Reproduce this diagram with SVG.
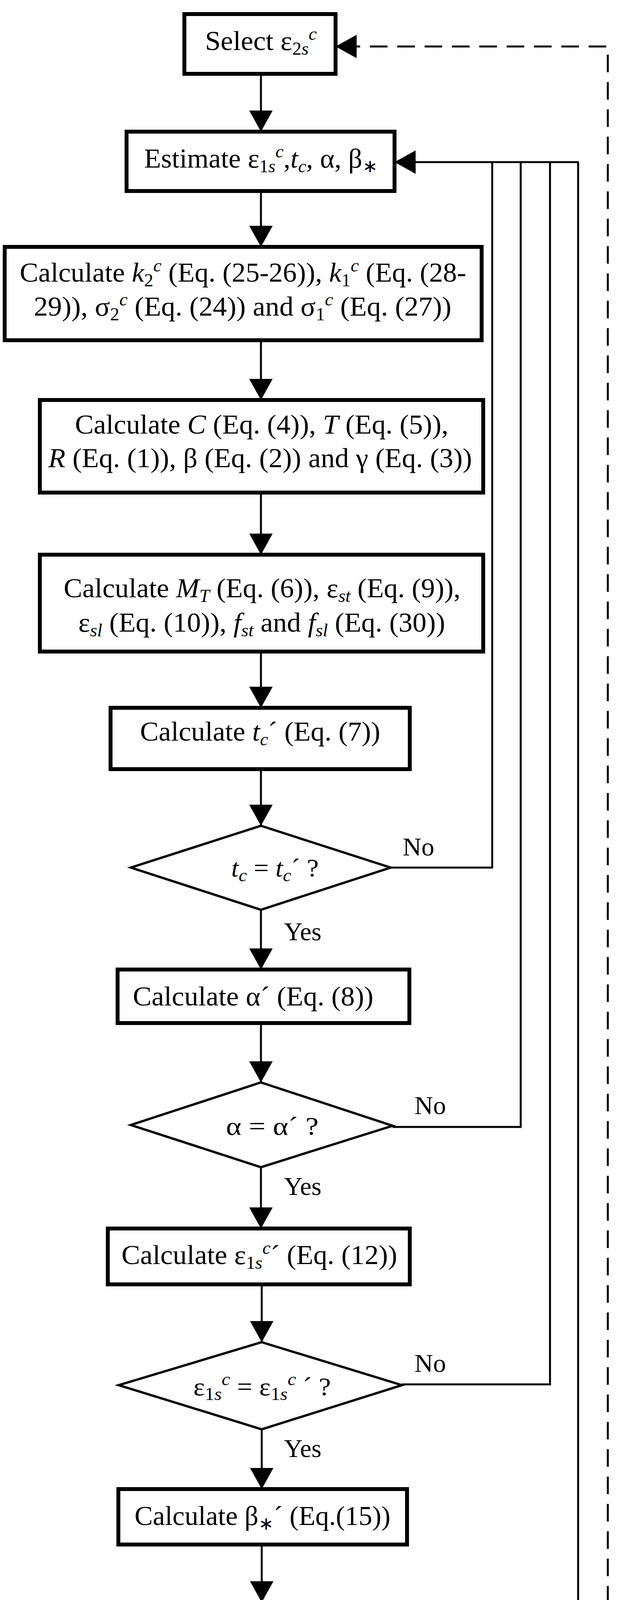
<svg xmlns="http://www.w3.org/2000/svg" width="1600" height="5403" viewBox="0 0 1600 5403">
<style>
.box{fill:#fff;stroke:#000;stroke-width:10}
.dia{fill:#fff;stroke:#000;stroke-width:6}
.ln{fill:none;stroke:#000;stroke-width:5}
.dash{fill:none;stroke:#000;stroke-width:5;stroke-dasharray:45 25}
text{font-family:"Liberation Serif","Times New Roman",serif;font-size:70px;fill:#000;text-anchor:middle}
.d{font-size:66px}
.lb{text-anchor:start;font-size:66px}
.i{font-style:italic}
.sb{font-size:46px;baseline-shift:-12px}
.sp{font-size:46px;baseline-shift:26px}
</style>
<defs>
<marker id="ah" markerUnits="userSpaceOnUse" markerWidth="56" markerHeight="64" refX="54" refY="32" orient="auto">
<path d="M0,2 L54,32 L0,62 z" fill="#000"/>
</marker>
</defs>
<g id="connectors">
<path class="ln" d="M668,189 V337" marker-end="url(#ah)"/>
<path class="ln" d="M668,489 V632" marker-end="url(#ah)"/>
<path class="ln" d="M668,871 V1024" marker-end="url(#ah)"/>
<path class="ln" d="M668,1261 V1420" marker-end="url(#ah)"/>
<path class="ln" d="M668,1668 V1812" marker-end="url(#ah)"/>
<path class="ln" d="M668,1969 V2114" marker-end="url(#ah)"/>
<path class="ln" d="M668,2329 V2482" marker-end="url(#ah)"/>
<path class="ln" d="M668,2619 V2771" marker-end="url(#ah)"/>
<path class="ln" d="M668,2988 V3145" marker-end="url(#ah)"/>
<path class="ln" d="M670,3288 V3436" marker-end="url(#ah)"/>
<path class="ln" d="M670,3659 V3812" marker-end="url(#ah)"/>
<path class="ln" d="M670,3954 V4102" marker-end="url(#ah)"/>
<path class="ln" d="M672,4316 V4466" marker-end="url(#ah)"/>
<path class="ln" d="M673,4603 V4753" marker-end="url(#ah)"/>
<path class="ln" d="M673,5114 V5264" marker-end="url(#ah)"/>
<path class="ln" d="M1000,2221 H1260 V415"/>
<path class="ln" d="M1005,2885 H1333 V415"/>
<path class="ln" d="M1029,3544 H1408 V415"/>
<path class="ln" d="M1000,4208 H1480 V415"/>
<path class="ln" d="M1482,415 H1010" marker-end="url(#ah)"/>
<path class="dash" d="M1128,4937 H1556 V119 H859" marker-end="url(#ah)"/>
<text class="lb" x="727" y="2407">Yes</text>
<text class="lb" x="727" y="3059">Yes</text>
<text class="lb" x="727" y="3730">Yes</text>
<text class="lb" x="727" y="4389">Yes</text>
<text class="lb" x="727" y="5187">Yes</text>
<text class="lb" x="1031" y="2190">No</text>
<text class="lb" x="1061" y="2852">No</text>
<text class="lb" x="1061" y="3512">No</text>
<text class="lb" x="1061" y="4176">No</text>
<text class="lb" x="1173" y="4906">No</text>
</g>
<g id="select"><rect class="box" x="472" y="36" width="387" height="153"/>
<text x="668" y="128" textLength="286" lengthAdjust="spacingAndGlyphs">Select ε<tspan class="sb">2<tspan class="i">s</tspan></tspan><tspan class="sp i">c</tspan></text></g>
<g id="estimate"><rect class="box" x="324" y="337" width="686" height="152"/>
<text x="668" y="429" textLength="598" lengthAdjust="spacingAndGlyphs">Estimate ε<tspan class="sb">1<tspan class="i">s</tspan></tspan><tspan class="sp i">c</tspan>,<tspan class="i">t</tspan><tspan class="sb i">c</tspan>, α, β<tspan class="sb">∗</tspan></text></g>
<g id="calc-k"><rect class="box" x="12" y="632" width="1221" height="239"/>
<text x="622" y="721" textLength="1143" lengthAdjust="spacingAndGlyphs">Calculate <tspan class="i">k</tspan><tspan class="sb">2</tspan><tspan class="sp i">c</tspan> (Eq. (25-26)), <tspan class="i">k</tspan><tspan class="sb">1</tspan><tspan class="sp i">c</tspan> (Eq. (28-</text>
<text x="621" y="808" textLength="1069" lengthAdjust="spacingAndGlyphs">29)), σ<tspan class="sb">2</tspan><tspan class="sp i">c</tspan> (Eq. (24)) and σ<tspan class="sb">1</tspan><tspan class="sp i">c</tspan> (Eq. (27))</text></g>
<g id="calc-c"><rect class="box" x="102" y="1024" width="1135" height="237"/>
<text x="670" y="1110" textLength="956" lengthAdjust="spacingAndGlyphs">Calculate <tspan class="i">C</tspan> (Eq. (4)), <tspan class="i">T</tspan> (Eq. (5)),</text>
<text x="666" y="1196" textLength="1085" lengthAdjust="spacingAndGlyphs"><tspan class="i">R</tspan> (Eq. (1)), β (Eq. (2)) and γ (Eq. (3))</text></g>
<g id="calc-mt"><rect class="box" x="102" y="1420" width="1135" height="248"/>
<text x="671" y="1529" textLength="1016" lengthAdjust="spacingAndGlyphs">Calculate <tspan class="i">M</tspan><tspan class="sb i">T</tspan> (Eq. (6)), ε<tspan class="sb i">st</tspan> (Eq. (9)),</text>
<text x="670" y="1617" textLength="939" lengthAdjust="spacingAndGlyphs">ε<tspan class="sb i">sl</tspan> (Eq. (10)), <tspan class="i">f</tspan><tspan class="sb i">st</tspan> and <tspan class="i">f</tspan><tspan class="sb i">sl</tspan> (Eq. (30))</text></g>
<g id="calc-tc"><rect class="box" x="283" y="1812" width="766" height="157"/>
<text x="666" y="1896" textLength="615" lengthAdjust="spacingAndGlyphs">Calculate <tspan class="i">t</tspan><tspan class="sb i">c</tspan>´ (Eq. (7))</text></g>
<g id="dec-tc"><polygon class="dia" points="668,2114 1000,2221 668,2329 335,2221"/>
<text class="d" x="704" y="2244" textLength="224" lengthAdjust="spacingAndGlyphs"><tspan class="i">t</tspan><tspan class="sb i">c</tspan> = <tspan class="i">t</tspan><tspan class="sb i">c</tspan>´ ?</text></g>
<g id="calc-alpha"><rect class="box" x="301" y="2482" width="747" height="137"/>
<text x="648" y="2574" textLength="616" lengthAdjust="spacingAndGlyphs">Calculate α´ (Eq. (8))</text></g>
<g id="dec-alpha"><polygon class="dia" points="668,2771 1005,2882 668,2988 335,2880"/>
<text class="d" x="697" y="2905" textLength="237" lengthAdjust="spacingAndGlyphs">α = α´ ?</text></g>
<g id="calc-eps"><rect class="box" x="276" y="3145" width="773" height="143"/>
<text x="664" y="3236" textLength="706" lengthAdjust="spacingAndGlyphs">Calculate ε<tspan class="sb">1<tspan class="i">s</tspan></tspan><tspan class="sp i">c</tspan>´ (Eq. (12))</text></g>
<g id="dec-eps"><polygon class="dia" points="670,3436 1029,3546 670,3659 304,3546"/>
<text class="d" x="671" y="3572" textLength="352" lengthAdjust="spacingAndGlyphs">ε<tspan class="sb">1<tspan class="i">s</tspan></tspan><tspan class="sp i">c</tspan> = ε<tspan class="sb">1<tspan class="i">s</tspan></tspan><tspan class="sp i">c</tspan> ´ ?</text></g>
<g id="calc-beta"><rect class="box" x="303" y="3812" width="739" height="142"/>
<text x="672" y="3904" textLength="655" lengthAdjust="spacingAndGlyphs">Calculate β<tspan class="sb">∗</tspan>´ (Eq.(15))</text></g>
<g id="dec-beta"><polygon class="dia" points="670,4102 1000,4208 670,4316 337,4208"/>
<text class="d" x="672" y="4233" textLength="267" lengthAdjust="spacingAndGlyphs">β<tspan class="sb">∗</tspan> = β<tspan class="sb">∗</tspan>´ ?</text></g>
<g id="calc-theta"><rect class="box" x="306" y="4466" width="742" height="137"/>
<text x="677" y="4555" textLength="625" lengthAdjust="spacingAndGlyphs">Calculate θ (Eq. (11))</text></g>
<g id="dec-final"><polygon class="dia" points="673,4753 1128,4934 673,5114 224,4934"/>
<text class="d" x="695" y="4923" textLength="288" lengthAdjust="spacingAndGlyphs">ε<tspan class="sb">2<tspan class="i">s</tspan></tspan><tspan class="sp i">c</tspan> &gt; ε<tspan class="sb i">cu</tspan> ?</text>
<text class="d" x="695" y="5010" textLength="370" lengthAdjust="spacingAndGlyphs">ε<tspan class="sb i">sl</tspan> or ε<tspan class="sb i">st</tspan> &gt; ε<tspan class="sb i">su</tspan></text></g>
<g id="end"><rect class="box" x="529" y="5264" width="285" height="109"/>
<text x="672" y="5347" textLength="145" lengthAdjust="spacingAndGlyphs">END</text></g>
</svg>
